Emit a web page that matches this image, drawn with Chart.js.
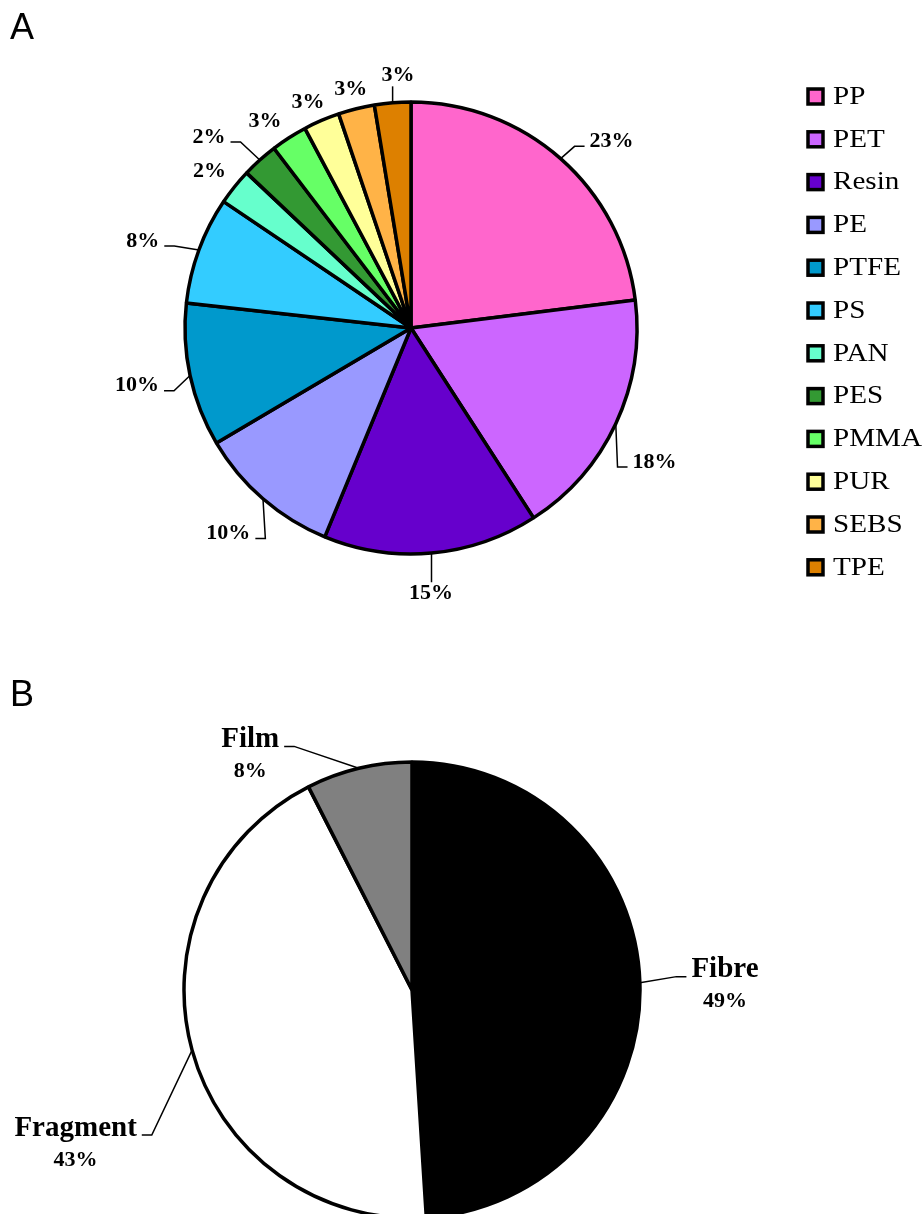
<!DOCTYPE html>
<html>
<head>
<meta charset="utf-8">
<script src="https://cdn.jsdelivr.net/npm/chart.js@4.4.1/dist/chart.umd.min.js"></script>
<style>
  body { margin: 0; background: #fff; }
  .panel { position: relative; width: 922px; }
  .letter { position: absolute; left: 10px; font: 36px "Liberation Sans", Arial, sans-serif; line-height: 36px; color: #000; }
</style>
</head>
<body>
<div class="panel" style="height:640px">
  <div class="letter" style="top:9px">A</div>
  <canvas id="pieA" width="922" height="640"></canvas>
</div>
<div class="panel" style="height:574px">
  <div class="letter" style="top:36px">B</div>
  <canvas id="pieB" width="922" height="574"></canvas>
</div>
<script>
// panel A: polymer types
const polymers = ['PP', 'PET', 'Resin', 'PE', 'PTFE', 'PS', 'PAN', 'PES', 'PMMA', 'PUR', 'SEBS', 'TPE'];
const polymerShare = [23.1, 17.9, 15.4, 10.3, 10.3, 7.7, 2.6, 2.6, 2.6, 2.6, 2.6, 2.6];
const polymerPct = ['23%', '18%', '15%', '10%', '10%', '8%', '2%', '2%', '3%', '3%', '3%', '3%'];
const polymerColors = ['#FF66CC', '#CC66FF', '#6600CC', '#9999FF', '#0099CC', '#33CCFF',
                       '#66FFCC', '#339933', '#66FF66', '#FFFF99', '#FFB347', '#DD8000'];

// panel B: shapes
const shapes = ['Fibre', 'Fragment', 'Film'];
const shapeShare = [49, 43.5, 7.5];
const shapePct = ['49%', '43%', '8%'];
const shapeColors = ['#000000', '#FFFFFF', '#808080'];

const SERIF = '"Liberation Serif", "Times New Roman", serif';

// percent labels (and names) outside the slices, with leader lines
const sliceLabels = {
    id: 'sliceLabels',
    afterDatasetsDraw(chart, args, opts) {
        const ctx = chart.ctx;
        const arcs = chart.getDatasetMeta(0).data;
        ctx.save();
        ctx.fillStyle = '#000';
        ctx.strokeStyle = '#000';
        ctx.lineWidth = 1.5;
        ctx.textAlign = 'center';
        ctx.textBaseline = 'middle';
        arcs.forEach((arc, i) => {
            const p = arc.getProps(['x', 'y', 'startAngle', 'endAngle', 'outerRadius'], true);
            const mid = (p.startAngle + p.endAngle) / 2;
            const ex = p.x + Math.cos(mid) * p.outerRadius;
            const ey = p.y + Math.sin(mid) * p.outerRadius;
            const a = mid + opts.shift[i] * Math.PI / 180;
            const cx = p.x + Math.cos(a) * opts.dist[i];
            const cy = p.y + Math.sin(a) * opts.dist[i];

            const lines = opts.lines(i);
            const n = lines.length;
            let w = 0;
            lines.forEach((l, k) => {
                ctx.font = l.font;
                w = Math.max(w, ctx.measureText(l.text).width);
                ctx.fillText(l.text, cx, cy + (k - (n - 1) / 2) * opts.lineGap);
            });

            if (!opts.leader[i]) return;
            const h = (n - 1) * opts.lineGap + 16;
            const left = cx - w / 2, right = cx + w / 2;
            const top = cy - h / 2, bottom = cy + h / 2;
            const y0 = cy - (n - 1) / 2 * opts.lineGap + opts.stubDy;
            ctx.beginPath();
            ctx.moveTo(ex, ey);
            if (ex > right + 4) {
                ctx.lineTo(right + 5 + 10, y0);
                ctx.lineTo(right + 5, y0);
            } else if (ex < left - 4) {
                ctx.lineTo(left - 5 - 10, y0);
                ctx.lineTo(left - 5, y0);
            } else {
                const ax = Math.min(Math.max(ex, left), right);
                ctx.lineTo(ax, ey > cy ? bottom + 3 : top - 3);
            }
            ctx.stroke();
        });
        ctx.restore();
    }
};

// legend on the right of panel A
const sideLegend = {
    id: 'sideLegend',
    afterDraw(chart, args, opts) {
        if (!opts.show) return;
        const ctx = chart.ctx;
        const ds = chart.data.datasets[0];
        ctx.save();
        chart.data.labels.forEach((lab, i) => {
            const y = opts.y + i * opts.step;
            ctx.fillStyle = ds.backgroundColor[i];
            ctx.fillRect(opts.x, y - 7, 15, 15);
            ctx.lineWidth = 3.5;
            ctx.strokeStyle = '#000';
            ctx.strokeRect(opts.x, y - 7, 15, 15);
            ctx.save();
            ctx.translate(opts.x + 25, y);
            ctx.scale(1.12, 1);
            ctx.fillStyle = '#000';
            ctx.font = '26px ' + SERIF;
            ctx.textBaseline = 'middle';
            ctx.fillText(lab, 0, 1);
            ctx.restore();
        });
        ctx.restore();
    }
};

Chart.register(sliceLabels, sideLegend);

new Chart(document.getElementById('pieA'), {
    type: 'pie',
    data: {
        labels: polymers,
        datasets: [{
            data: polymerShare,
            backgroundColor: polymerColors,
            borderColor: '#000',
            borderWidth: 3.5,
            radius: 226,
            clip: false
        }]
    },
    options: {
        responsive: false,
        animation: false,
        events: [],
        layout: { padding: { left: 181, right: 281, top: 98, bottom: 82 } },
        plugins: {
            legend: { display: false },
            tooltip: { enabled: false },
            sideLegend: { show: true, x: 808, y: 96, step: 42.8 },
            sliceLabels: {
                lines: i => [{ text: polymerPct[i], font: 'bold 22px ' + SERIF }],
                lineGap: 0,
                stubDy: 5,
                shift: [5.6, 3.8, 0.9, 0.7, 0.2, -2.2, -0.9, -4.6, -2.6, -1.2, -0.2, 1.7],
                dist: [274, 278, 266, 275, 280, 282, 255, 278, 253, 248, 246, 253],
                leader: [true, true, true, true, true, true, false, true, false, false, false, true]
            }
        }
    }
});

new Chart(document.getElementById('pieB'), {
    type: 'pie',
    data: {
        labels: shapes,
        datasets: [{
            data: shapeShare,
            backgroundColor: shapeColors,
            borderColor: '#000',
            borderWidth: 3.5,
            radius: 228,
            clip: false
        }]
    },
    options: {
        responsive: false,
        animation: false,
        events: [],
        layout: { padding: { left: 212, right: 310, top: 150, bottom: 24 } },
        plugins: {
            legend: { display: false },
            tooltip: { enabled: false },
            sideLegend: { show: false },
            sliceLabels: {
                lines: i => [
                    { text: shapes[i], font: 'bold 29px ' + SERIF },
                    { text: shapePct[i], font: 'bold 22px ' + SERIF }
                ],
                lineGap: 32,
                stubDy: 7,
                shift: [1.0, -9.3, -21.1],
                dist: [313, 370, 285],
                leader: [true, true, true]
            }
        }
    }
});
</script>
</body>
</html>
